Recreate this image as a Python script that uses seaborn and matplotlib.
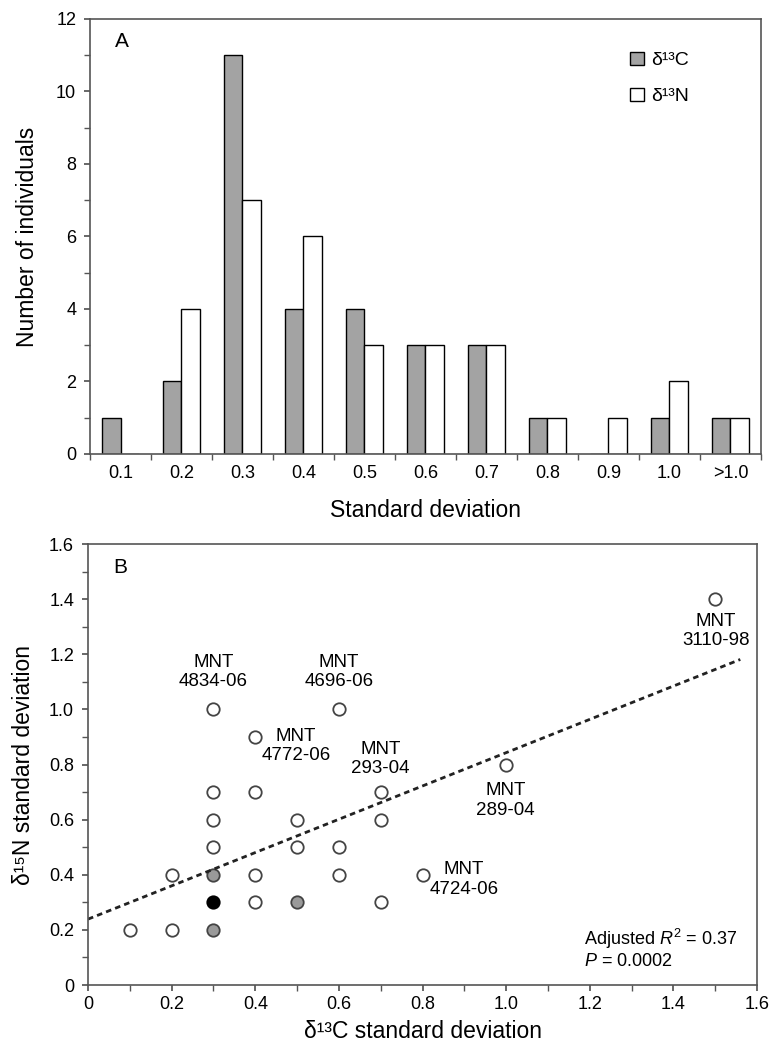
import numpy as np
import pandas as pd
import matplotlib
matplotlib.use("Agg")
import matplotlib.pyplot as plt
import seaborn as sns
from matplotlib.ticker import MultipleLocator, FixedLocator

# ---------------- data ----------------
categories = ["0.1", "0.2", "0.3", "0.4", "0.5", "0.6", "0.7", "0.8", "0.9", "1.0", ">1.0"]
count_c13 = [1, 2, 11, 4, 4, 3, 3, 1, 0, 1, 1]
count_n13 = [0, 4, 7, 6, 3, 3, 3, 1, 1, 2, 1]
series_names = ["δ¹³C", "δ¹³N"]

open_x = [0.1, 0.2, 0.2, 0.3, 0.3, 0.3, 0.3, 0.4, 0.4, 0.4, 0.4, 0.5, 0.5, 0.6, 0.6, 0.6, 0.7, 0.7, 0.7, 0.8, 1.0, 1.5]
open_y = [0.2, 0.2, 0.4, 0.5, 0.6, 0.7, 1.0, 0.3, 0.4, 0.7, 0.9, 0.5, 0.6, 0.4, 0.5, 1.0, 0.3, 0.6, 0.7, 0.4, 0.8, 1.4]
gray_x = [0.3, 0.3, 0.5]
gray_y = [0.2, 0.4, 0.3]
black_x = [0.3]
black_y = [0.3]

fit_intercept = 0.239
fit_slope = 0.604
fit_range = [0.0, 1.56]

label_text = ["MNT\n4834-06", "MNT\n4696-06", "MNT\n4772-06", "MNT\n293-04",
              "MNT\n289-04", "MNT\n4724-06", "MNT\n3110-98"]
label_x = [0.30, 0.60, 0.497, 0.699, 0.999, 0.899, 1.502]
label_y = [1.135, 1.135, 0.867, 0.82, 0.669, 0.382, 1.285]

# ---------------- style ----------------
sns.set_theme(style="white")
plt.rcParams["font.family"] = ["Liberation Sans", "DejaVu Sans"]
plt.rcParams["mathtext.fontset"] = "custom"
plt.rcParams["mathtext.rm"] = "Liberation Sans"
plt.rcParams["mathtext.it"] = "Liberation Sans:italic"
plt.rcParams["text.color"] = "black"
plt.rcParams["axes.labelcolor"] = "black"
plt.rcParams["xtick.labelcolor"] = "black"
plt.rcParams["ytick.labelcolor"] = "black"

fig = plt.figure(figsize=(7.72, 10.46), dpi=100)
axA = fig.add_axes([0.1166, 0.566, 0.869, 0.4159])
axB = fig.add_axes([0.114, 0.0583, 0.8666, 0.4216])

frame_col = "#555555"
for ax in (axA, axB):
    for s in ax.spines.values():
        s.set_color(frame_col)
        s.set_linewidth(1.2)

# ---------------- panel A ----------------
df = pd.DataFrame({
    "cat": categories * 2,
    "count": count_c13 + count_n13,
    "iso": [series_names[0]] * len(categories) + [series_names[1]] * len(categories),
})
sns.barplot(data=df, x="cat", y="count", hue="iso", order=categories,
            palette=["#a3a3a3", "white"], edgecolor="black", linewidth=1.0,
            width=0.6, dodge=True, ax=axA)
axA.set_xlim(-0.5, len(categories) - 0.5)
axA.set_ylim(0, 12)
axA.yaxis.set_major_locator(MultipleLocator(2))
axA.yaxis.set_minor_locator(MultipleLocator(1))
axA.xaxis.set_minor_locator(FixedLocator(np.arange(-0.5, len(categories), 1.0)))
axA.tick_params(axis="x", which="major", length=0, labelsize=13, pad=8)
axA.tick_params(axis="x", which="minor", length=4, direction="out", color=frame_col, bottom=True)
axA.tick_params(axis="y", which="both", length=4, direction="out", color=frame_col, left=True)
axA.tick_params(axis="y", which="major", labelsize=13, pad=6)
axA.set_xlabel("Standard deviation", fontsize=16.5, labelpad=12)
axA.set_ylabel("Number of individuals", fontsize=16.5, labelpad=12)
axA.text(0.037, 0.947, "A", transform=axA.transAxes, fontsize=15, va="center", ha="left")
axA.legend(loc="upper left", bbox_to_anchor=(0.805, 0.925), frameon=False, fontsize=14,
           handlelength=0.7, handleheight=0.7, labelspacing=0.95, handletextpad=0.4,
           borderpad=0, borderaxespad=0)

# ---------------- panel B ----------------
sns.scatterplot(x=open_x, y=open_y, ax=axB, s=80, facecolor="white", edgecolor="#444444", linewidth=1.3)
sns.scatterplot(x=gray_x, y=gray_y, ax=axB, s=80, color="#9a9a9a", edgecolor="#444444", linewidth=1.3)
sns.scatterplot(x=black_x, y=black_y, ax=axB, s=80, color="black", edgecolor="black", linewidth=1.3)
fx = np.array(fit_range)
sns.lineplot(x=fx, y=fit_intercept + fit_slope * fx, ax=axB, color="#222222",
             linestyle=(0, (2, 1.5)), linewidth=2.0)
for t, x, y in zip(label_text, label_x, label_y):
    axB.text(x, y, t, ha="center", va="center", fontsize=13.5, linespacing=1.2)
axB.text(1.186, 0.166, "Adjusted $\\mathit{R}^2$ = 0.37", fontsize=13, va="center", ha="left")
axB.text(1.186, 0.085, "$\\mathit{P}$ = 0.0002", fontsize=13, va="center", ha="left")
axB.text(0.037, 0.947, "B", transform=axB.transAxes, fontsize=15, va="center", ha="left")

axB.set_xlim(0, 1.6)
axB.set_ylim(0, 1.6)
axB.xaxis.set_major_locator(MultipleLocator(0.2))
axB.yaxis.set_major_locator(MultipleLocator(0.2))
axB.xaxis.set_minor_locator(MultipleLocator(0.1))
axB.yaxis.set_minor_locator(MultipleLocator(0.1))
axB.xaxis.set_major_formatter(lambda v, p: "0" if abs(v) < 1e-9 else f"{v:.1f}")
axB.yaxis.set_major_formatter(lambda v, p: "0" if abs(v) < 1e-9 else f"{v:.1f}")
axB.tick_params(axis="both", which="both", direction="out", color=frame_col, bottom=True, left=True, length=4)
axB.tick_params(axis="both", which="major", labelsize=13)
axB.tick_params(axis="x", which="major", pad=4)
axB.tick_params(axis="y", which="major", pad=6)
axB.set_xlabel("δ¹³C standard deviation", fontsize=16.5, labelpad=5)
axB.set_ylabel("δ¹⁵N standard deviation", fontsize=16.5, labelpad=10)

fig.savefig("out.png", dpi=100)
